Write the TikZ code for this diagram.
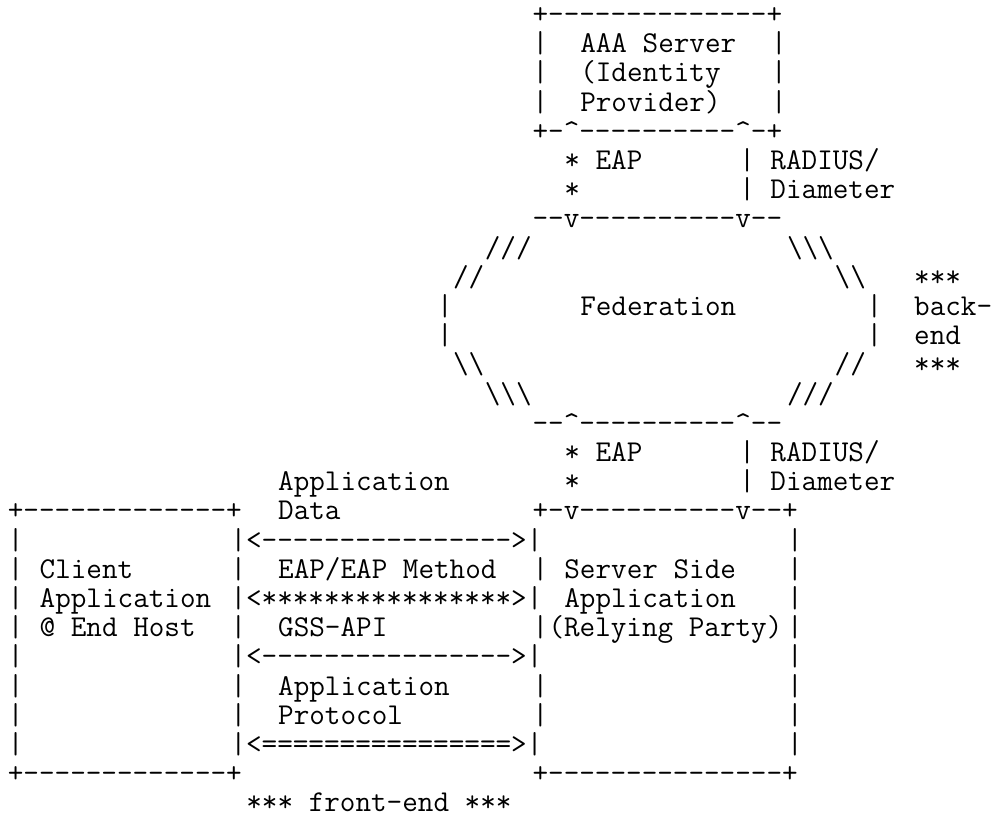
\documentclass[tikz,border=0pt]{standalone}
\usepackage{fontspec}
\usepackage{tikz}

% one piece of text on the character grid: row, column, text
\newcommand{\gridtxt}[3]{\node[cell] (r#1c#2) at ({\xo+#2*\cw},{\yo+(#1-1)*\lh}) {#3};}
\newcommand{\bs}{\textbackslash}
\newcommand{\up}{\textasciicircum}

\begin{document}
\frenchspacing
\begin{tikzpicture}[x=0.5pt,y=-0.5pt,
    cell/.style={anchor=base west,inner sep=0pt,
      font=\fontsize{15.14}{16}\selectfont\ttfamily}]
 % size of one character cell and origin of the grid
    \pgfmathsetmacro{\cw}{15.9}
    \pgfmathsetmacro{\lh}{29.2}
    \pgfmathsetmacro{\xo}{7.5}
    \pgfmathsetmacro{\yo}{23.5}
    \useasboundingbox (0,0) rectangle (1002,817);

    % AAA server box
    \gridtxt{1}{33}{+--------------+}
    \foreach \r in {2,3,4} {\gridtxt{\r}{33}{|} \gridtxt{\r}{48}{|}}
    \gridtxt{2}{36}{AAA Server}
    \gridtxt{3}{36}{(Identity}
    \gridtxt{4}{36}{Provider)}
    \gridtxt{5}{33}{+-\up----------\up-+}
    \gridtxt{6}{35}{* EAP}
    \gridtxt{6}{46}{| RADIUS/}
    \gridtxt{7}{35}{*}
    \gridtxt{7}{46}{| Diameter}

    % federation cloud
    \gridtxt{8}{33}{--v----------v--}
    \gridtxt{9}{30}{///}
    \gridtxt{9}{49}{\bs\bs\bs}
    \gridtxt{10}{28}{//}
    \gridtxt{10}{52}{\bs\bs}
    \gridtxt{10}{57}{***}
    \gridtxt{11}{27}{|}
    \gridtxt{11}{36}{Federation}
    \gridtxt{11}{54}{|}
    \gridtxt{11}{57}{back-}
    \gridtxt{12}{27}{|}
    \gridtxt{12}{54}{|}
    \gridtxt{12}{57}{end}
    \gridtxt{13}{28}{\bs\bs}
    \gridtxt{13}{52}{//}
    \gridtxt{13}{57}{***}
    \gridtxt{14}{30}{\bs\bs\bs}
    \gridtxt{14}{49}{///}
    \gridtxt{15}{33}{--\up----------\up--}
    \gridtxt{16}{35}{* EAP}
    \gridtxt{16}{46}{| RADIUS/}
    \gridtxt{17}{35}{*}
    \gridtxt{17}{46}{| Diameter}

    % client and server boxes
    \gridtxt{17}{17}{Application}
    \gridtxt{18}{0}{+-------------+}
    \gridtxt{18}{17}{Data}
    \gridtxt{18}{33}{+-v----------v--+}
    \foreach \r in {19,...,26} {\gridtxt{\r}{0}{|} \gridtxt{\r}{49}{|}}
    \foreach \r in {20,22,24,25} {\gridtxt{\r}{14}{|} \gridtxt{\r}{33}{|}}
    \gridtxt{19}{14}{|<---------------->|}
    \gridtxt{20}{2}{Client}
    \gridtxt{20}{17}{EAP/EAP Method}
    \gridtxt{20}{35}{Server Side}
    \gridtxt{21}{2}{Application}
    \gridtxt{21}{14}{|<****************>|}
    \gridtxt{21}{35}{Application}
    \gridtxt{22}{2}{@ End Host}
    \gridtxt{22}{17}{GSS-API}
    \gridtxt{22}{34}{(Relying Party)}
    \gridtxt{23}{14}{|<---------------->|}
    \gridtxt{24}{17}{Application}
    \gridtxt{25}{17}{Protocol}
    \gridtxt{26}{14}{|<================>|}
    \gridtxt{27}{0}{+-------------+}
    \gridtxt{27}{33}{+---------------+}
    \gridtxt{28}{15}{*** front-end ***}
\end{tikzpicture}
\end{document}
